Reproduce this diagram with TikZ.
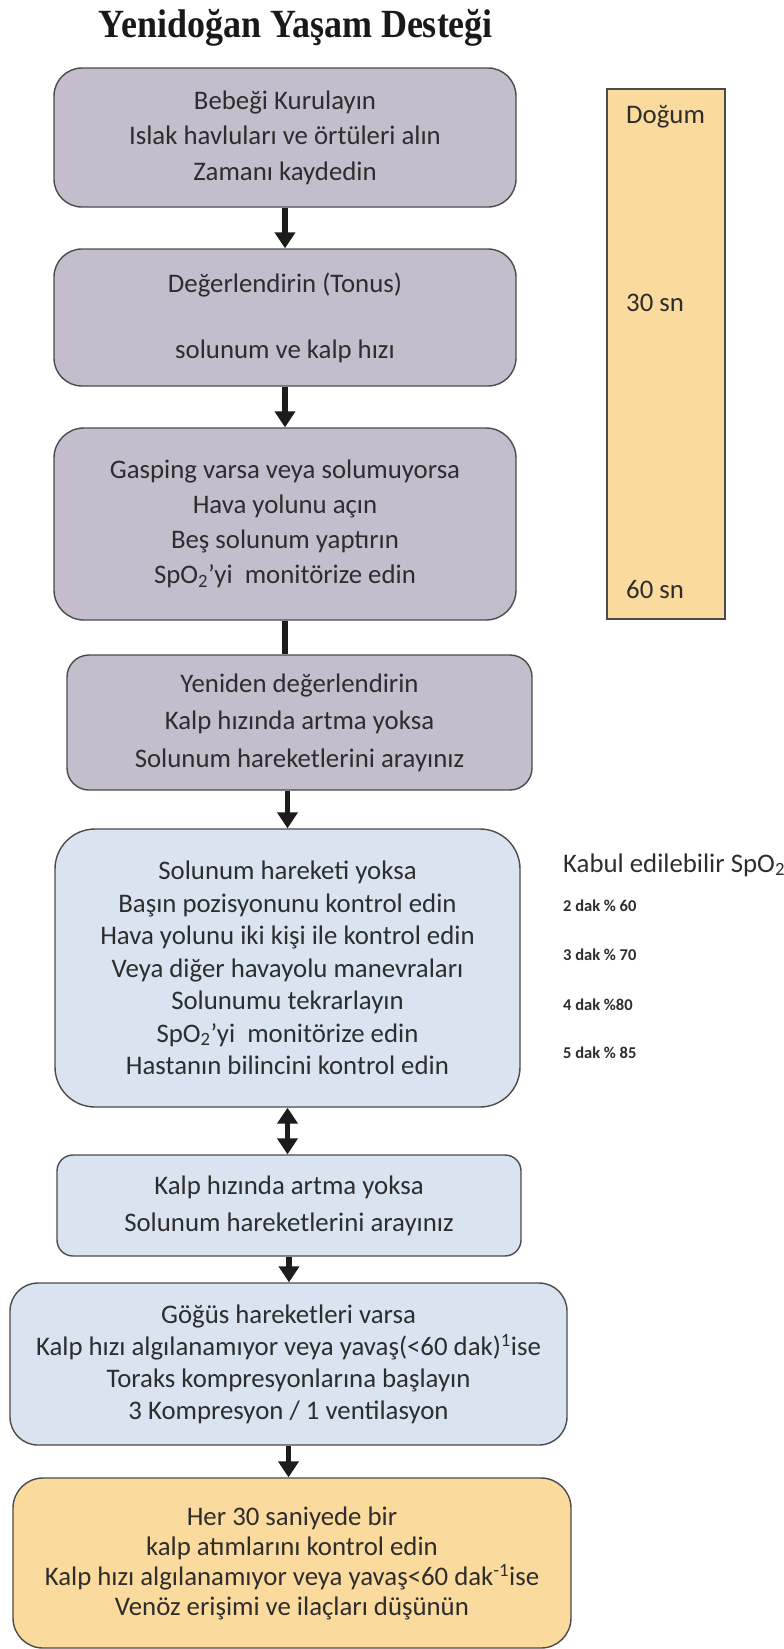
\documentclass[tikz,border=0pt]{standalone}
\usepackage{fontspec}
\setmainfont{Carlito}
\newfontfamily\titlefont{Liberation Serif}
\usetikzlibrary{arrows.meta}
\definecolor{lav}{RGB}{196,189,204}
\definecolor{lblue}{RGB}{217,228,240}
\definecolor{peach}{RGB}{251,218,157}
\definecolor{edge}{RGB}{75,75,75}
\definecolor{txt}{RGB}{45,45,45}
\definecolor{conn}{RGB}{28,28,28}
\begin{document}
\begin{tikzpicture}[x=1pt,y=-1pt,
  box/.style={draw=edge, line width=1.4pt, align=center, text=txt, inner sep=0pt},
  fs/.style={font=\fontsize{26.8}{#1}\selectfont},
  arr/.style={draw=conn, line width=5.5pt, -{Triangle[width=20pt,length=16pt]}},
  plainline/.style={draw=conn, line width=5.5pt},
  dblarr/.style={draw=conn, line width=5.5pt, {Triangle[width=20pt,length=16pt]}-{Triangle[width=20pt,length=16pt]}},
  lbl/.style={text=txt, inner sep=0pt, anchor=west, font=\fontsize{26.8}{32}\selectfont},
  small/.style={text=txt, inner sep=0pt, anchor=west, font=\bfseries\fontsize{16.5}{20}\selectfont}]
\useasboundingbox (0,0) rectangle (784,1649);

\node[anchor=base, inner sep=0pt, font=\titlefont\bfseries\fontsize{40}{44}\selectfont, text=black!90] (title) at (296,37) {\scalebox{0.9}[1]{Yenidoğan Yaşam Desteği}};

\node[box, fill=lav, rounded corners=28pt, minimum width=462pt, minimum height=139pt, fs=35.5] (b1) at (285,137.5)
  {Bebeği Kurulayın\\Islak havluları ve örtüleri alın\\Zamanı kaydedin};
\node[box, fill=lav, rounded corners=28pt, minimum width=462pt, minimum height=137pt, fs=35] (b2) at (285,317.5)
  {Değerlendirin (Tonus)\\[31pt]solunum ve kalp hızı};
\node[box, fill=lav, rounded corners=30pt, minimum width=462pt, minimum height=192pt, fs=35] (b3) at (285,524)
  {Gasping varsa veya solumuyorsa\\Hava yolunu açın\\Beş solunum yaptırın\\SpO\textsubscript{2}’yi\ \ monitörize edin};
\node[box, fill=lav, rounded corners=22pt, minimum width=465pt, minimum height=135pt, fs=37.5] (b4) at (299.5,722.5)
  {Yeniden değerlendirin\\Kalp hızında artma yoksa\\Solunum hareketlerini arayınız};
\node[box, fill=lblue, rounded corners=40pt, minimum width=465pt, minimum height=278pt, fs=32.5] (b5) at (287.5,968)
  {Solunum hareketi yoksa\\Başın pozisyonunu kontrol edin\\Hava yolunu iki kişi ile kontrol edin\\Veya diğer havayolu manevraları\\Solunumu tekrarlayın\\SpO\textsubscript{2}’yi\ \ monitörize edin\\Hastanın bilincini kontrol edin};
\node[box, fill=lblue, rounded corners=16pt, minimum width=464pt, minimum height=101pt, fs=37] (b6) at (289,1205.5)
  {Kalp hızında artma yoksa\\Solunum hareketlerini arayınız};
\node[box, fill=lblue, rounded corners=28pt, minimum width=557pt, minimum height=162pt, fs=32] (b7) at (288.5,1364)
  {Göğüs hareketleri varsa\\Kalp hızı algılanamıyor veya yavaş(<60 dak)\textsuperscript{1}ise\\Toraks kompresyonlarına başlayın\\3 Kompresyon / 1 ventilasyon};
\node[box, fill=peach, rounded corners=30pt, minimum width=558pt, minimum height=170pt, fs=30] (b8) at (292,1563)
  {Her 30 saniyede bir\\kalp atımlarını kontrol edin\\Kalp hızı algılanamıyor veya yavaş<60 dak\textsuperscript{-1}ise\\Venöz erişimi ve ilaçları düşünün};

\draw[arr] (b1.south) -- (b2.north);
\draw[arr] (b2.south) -- (b3.north);
\draw[plainline] (b3.south) -- (b3.south |- b4.north);
\draw[arr] (b5.north |- b4.south) -- (b5.north);
\draw[dblarr] (b5.south) -- (b5.south |- b6.north);
\draw[arr] (b6.south) -- (b6.south |- b7.north);
\draw[arr] (b7.south) -- (b7.south |- b8.north);

\node[draw=edge, line width=2pt, fill=peach, minimum width=118pt, minimum height=530pt, inner sep=0pt] (time) at (666,354) {};
\node[lbl] (t0) at (626,117) {Doğum};
\node[lbl] (t30) at (626,303) {30 sn};
\node[lbl] (t60) at (626,590) {60 sn};

\node[lbl] (kabul) at (563,865) {Kabul edilebilir SpO\textsubscript{2}};
\node[small] (s2) at (563,906) {2 dak \% 60};
\node[small] (s3) at (563,955) {3 dak \% 70};
\node[small] (s4) at (563,1005) {4 dak \%80};
\node[small] (s5) at (563,1053) {5 dak \% 85};
\end{tikzpicture}
\end{document}
